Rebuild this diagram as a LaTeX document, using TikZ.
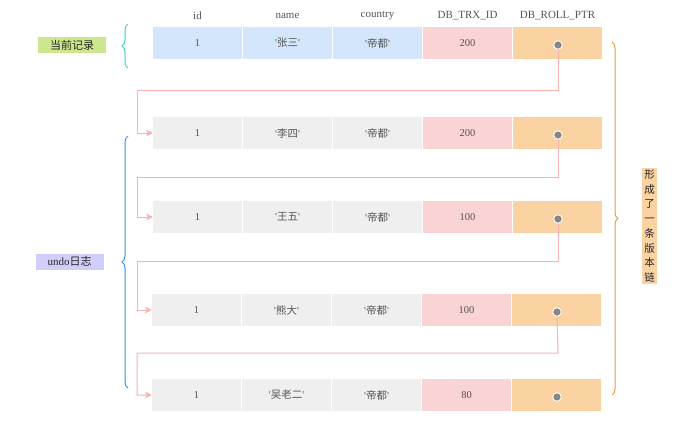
\documentclass[tikz,border=0pt]{standalone}
\usepackage{fontspec}
\setmainfont{Liberation Serif}
\newfontfamily\cjk{Noto Sans CJK SC}
\usetikzlibrary{arrows.meta,decorations.pathreplacing}

\definecolor{curblue}{HTML}{D3E6FC}
\definecolor{oldgray}{HTML}{EFEFEF}
\definecolor{trxpink}{HTML}{FAD3D4}
\definecolor{ptrorange}{HTML}{FBD3A2}
\definecolor{linkpink}{HTML}{F8B2B2}
\definecolor{dotgray}{HTML}{868686}
\definecolor{txtgray}{HTML}{555555}
\definecolor{labgreen}{HTML}{CDE78E}
\definecolor{lablav}{HTML}{D2CEFA}
\definecolor{bracecyan}{HTML}{3CCFD2}
\definecolor{braceblue}{HTML}{3A8EF2}
\definecolor{braceorange}{HTML}{E59A4C}

% a quoted string value, with plain ASCII quotes
\newcommand{\qval}[1]{\textquotesingle{\cjk #1}\textquotesingle}

\begin{document}
\begin{tikzpicture}[x=1pt,y=-1pt,
  cell/.style={minimum width=89pt,minimum height=32pt,inner sep=0pt,
    font=\fontsize{10.5}{12}\selectfont,text=txtgray},
  head/.style={font=\fontsize{11}{13}\selectfont,text=txtgray,inner sep=0pt},
  dot/.style={circle,fill=dotgray,draw=white,line width=0.9pt,
    minimum size=8.5pt,inner sep=0pt},
  link/.style={draw=linkpink,line width=1pt,
    -{Stealth[length=6.5pt,width=6.5pt,inset=1.5pt]}},
  lab/.style={minimum width=68pt,minimum height=16pt,inner sep=0pt,
    font=\fontsize{11}{13}\selectfont,text=black!85},
  curly/.style={decorate,decoration={brace,amplitude=6pt},line width=1pt}
]
\useasboundingbox (0,0) rectangle (682,421);

% column headings
\node[head] (h-id)   at (197.5,16) {id};
\node[head] (h-name) at (287.5,16) {name};
\node[head] (h-ctry) at (377.5,16) {country};
\node[head] (h-trx)  at (467.5,16) {DB\_TRX\_ID};
\node[head] (h-ptr)  at (557.5,16) {DB\_ROLL\_PTR};

% current record and undo log rows
\foreach \r/\y/\dx/\nm/\trx/\bg in {
    1/43/0/张三/200/curblue,
    2/133/0/李四/200/oldgray,
    3/217/0/王五/100/oldgray,
    4/310/-1/熊大/100/oldgray,
    5/395/-1/吴老二/80/oldgray} {
  \node[cell,fill=\bg]     (r\r-id)   at (197.5+\dx,\y) {1};
  \node[cell,fill=\bg]     (r\r-name) at (287.5+\dx,\y) {\qval{\nm}};
  \node[cell,fill=\bg]     (r\r-ctry) at (377.5+\dx,\y) {\qval{帝都}};
  \node[cell,fill=trxpink] (r\r-trx)  at (467.5+\dx,\y) {\trx};
  \node[cell,fill=ptrorange] (r\r-ptr) at (557.5+\dx,\y) {};
}

% roll pointers: each one leads to the previous version
\foreach \a/\b/\yy in {1/2/90, 2/3/177, 3/4/261, 4/5/353} {
  \coordinate (t\a) at (137,\yy);
  \coordinate (p\a) at (558,\yy);
  \draw[link] (r\a-ptr.center) ++(0.5,2) -- (p\a) -- (t\a) |- (r\b-id.west);
}
\foreach \r/\y/\dx in {1/43/0, 2/133/0, 3/217/0, 4/310/-1, 5/395/-1}
  \node[dot] (d\r) at (558+\dx,\y+2) {};

% side labels
\node[lab,fill=labgreen] (cur)  at (72,45)    {\cjk 当前记录};
\node[lab,fill=lablav]   (undo) at (69.5,261.5) {undo{\cjk 日志}};
\node[fill=ptrorange,minimum width=15pt,inner xsep=1pt,inner ysep=2pt,
      align=center,font=\cjk\fontsize{10.5}{14.7}\selectfont,text=black!85]
  (chain) at (649.5,226) {形\\成\\了\\一\\条\\版\\本\\链};

% braces
\draw[curly,draw=bracecyan]   (128,68)  -- (128,24);
\draw[curly,draw=braceblue]   (128,388) -- (128,136);
\draw[curly,draw=braceorange] (612,42)  -- (612,395);
\end{tikzpicture}
\end{document}
